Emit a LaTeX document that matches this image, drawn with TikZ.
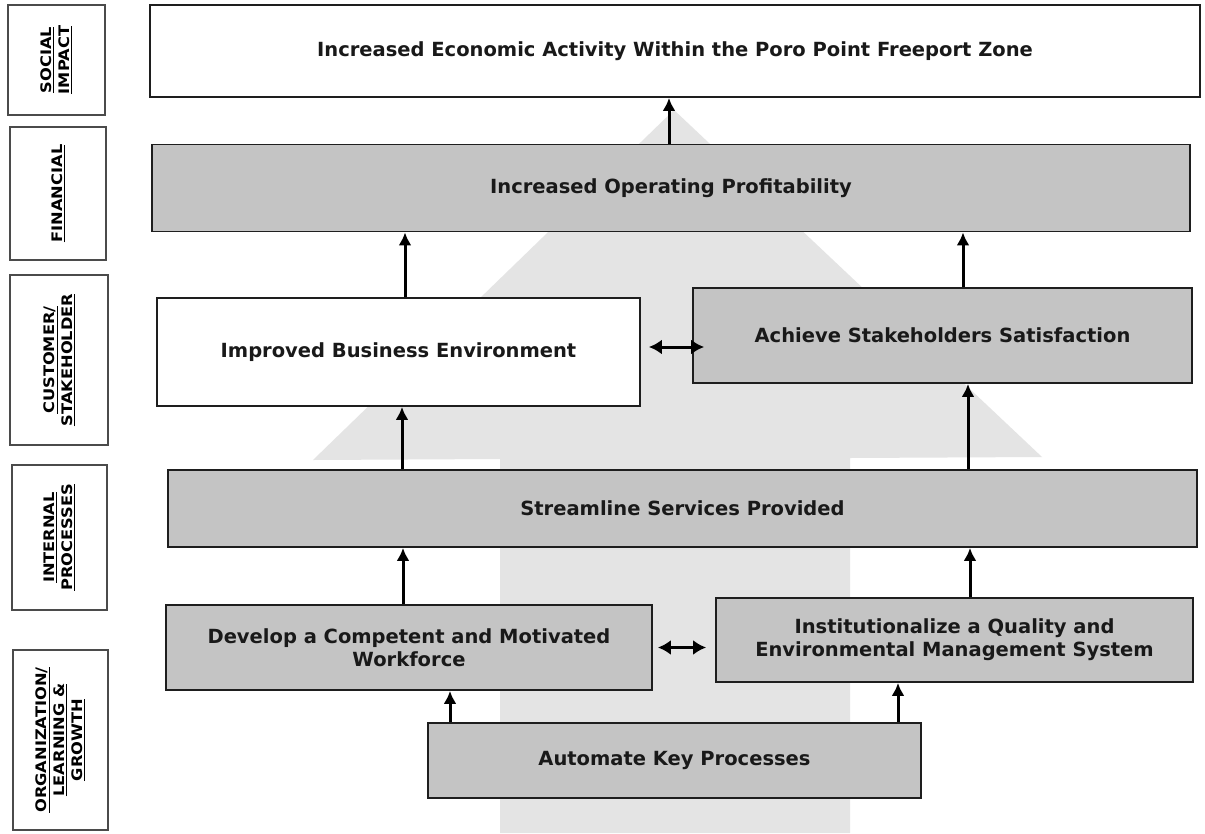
\documentclass[tikz,border=0pt]{standalone}
\usepackage{fontspec}
\setmainfont{DejaVu Sans}
\newfontfamily\sidefont{DejaVu Sans}[FakeStretch=1.12]
\usetikzlibrary{arrows.meta,calc}
\definecolor{boxgray}{HTML}{C4C4C4}
\definecolor{bggray}{HTML}{E4E4E4}
\definecolor{edge}{HTML}{1E1E1E}
\tikzset{
  mainbox/.style={draw=edge, line width=1.8pt, inner sep=2pt, align=center,
    font=\fontsize{19.5}{23}\selectfont\bfseries, text=black!90},
  graybox/.style={mainbox, fill=boxgray},
  whitebox/.style={mainbox, fill=white},
  sidebox/.style={draw=edge!80, line width=1.4pt, fill=white, inner sep=0pt},
  sidetext/.style={rotate=90, align=center, font=\sidefont\fontsize{14.5}{18}\selectfont\bfseries},
  uparr/.style={line width=3pt, draw=black, -{Latex[length=13pt,width=13pt]}},
  twoarr/.style={line width=3pt, draw=black, {Latex[length=13pt,width=15pt]}-{Latex[length=13pt,width=15pt]}}
}
\begin{document}
\begin{tikzpicture}[x=1pt,y=-1pt]
\useasboundingbox (0,0) rectangle (1205,833);
\fill[white] (0,0) rectangle (1205,833);
% background arrow
\fill[bggray] (313,460) -- (674,110) -- (1042,457) -- (850,458) -- (850,833) -- (500,833) -- (500,459) -- cycle;

% side labels
\node[sidebox, minimum width=97pt, minimum height=110pt] (l1) at (56.5,60) {};
\node[sidetext] at (l1) {\underline{SOCIAL}\\\underline{IMPACT}};
\node[sidebox, minimum width=96pt, minimum height=133pt] (l2) at (58,193.5) {};
\node[sidetext] at (l2) {\underline{FINANCIAL}};
\node[sidebox, minimum width=98pt, minimum height=170pt] (l3) at (59,360) {};
\node[sidetext] at (l3) {\underline{CUSTOMER/}\\\underline{STAKEHOLDER}};
\node[sidebox, minimum width=95pt, minimum height=145pt] (l4) at (59.5,537.5) {};
\node[sidetext] at (l4) {\underline{INTERNAL}\\\underline{PROCESSES}};
\node[sidebox, minimum width=95pt, minimum height=180pt] (l5) at (60.5,740) {};
\node[sidetext] at (l5) {\underline{ORGANIZATION/}\\\underline{LEARNING \&}\\\underline{GROWTH}};

% main boxes
\node[whitebox, minimum width=1050pt, minimum height=92pt] (soc) at (675,51) {Increased Economic Activity Within the Poro Point Freeport Zone};
\node[graybox, minimum width=1038pt, minimum height=87pt] (fin) at (671,188) {Increased Operating Profitability};
\node[whitebox, minimum width=483pt, minimum height=108pt] (imp) at (398.5,352) {Improved Business Environment};
\node[graybox, minimum width=499pt, minimum height=95pt] (ach) at (942.5,335.5) {Achieve Stakeholders Satisfaction};
\node[graybox, minimum width=1029pt, minimum height=77pt] (str) at (682.5,508.5) {Streamline Services Provided};
\node[graybox, minimum width=486pt, minimum height=85pt] (dev) at (409,647.5) {Develop a Competent and Motivated\\Workforce};
\node[graybox, minimum width=477pt, minimum height=84pt] (ins) at (954.5,640) {Institutionalize a Quality and\\Environmental Management System};
\node[graybox, minimum width=493pt, minimum height=75pt] (aut) at (674.5,760.5) {Automate Key Processes};

% arrows
\draw[uparr] (fin.north -| 669,0) -- (soc.south -| 669,0);
\draw[uparr] (imp.north -| 405,0) -- (fin.south -| 405,0);
\draw[uparr] (ach.north -| 963,0) -- (fin.south -| 963,0);
\draw[uparr] (str.north -| 402,0) -- (imp.south -| 402,0);
\draw[uparr] (str.north -| 968,0) -- (ach.south -| 968,0);
\draw[uparr] (dev.north -| 403,0) -- (str.south -| 403,0);
\draw[uparr] (ins.north -| 970,0) -- (str.south -| 970,0);
\draw[uparr] (aut.north -| 450,0) -- (dev.south -| 450,0);
\draw[uparr] (aut.north -| 898,0) -- (ins.south -| 898,0);
\draw[twoarr] ($(imp.east)+(8,-5)$) -- ($(ach.west |- imp.east)+(12,-5)$);
\draw[twoarr] ($(dev.east)+(5,0)$) -- ($(ins.west |- dev.east)+(-9,0)$);
\end{tikzpicture}
\end{document}
